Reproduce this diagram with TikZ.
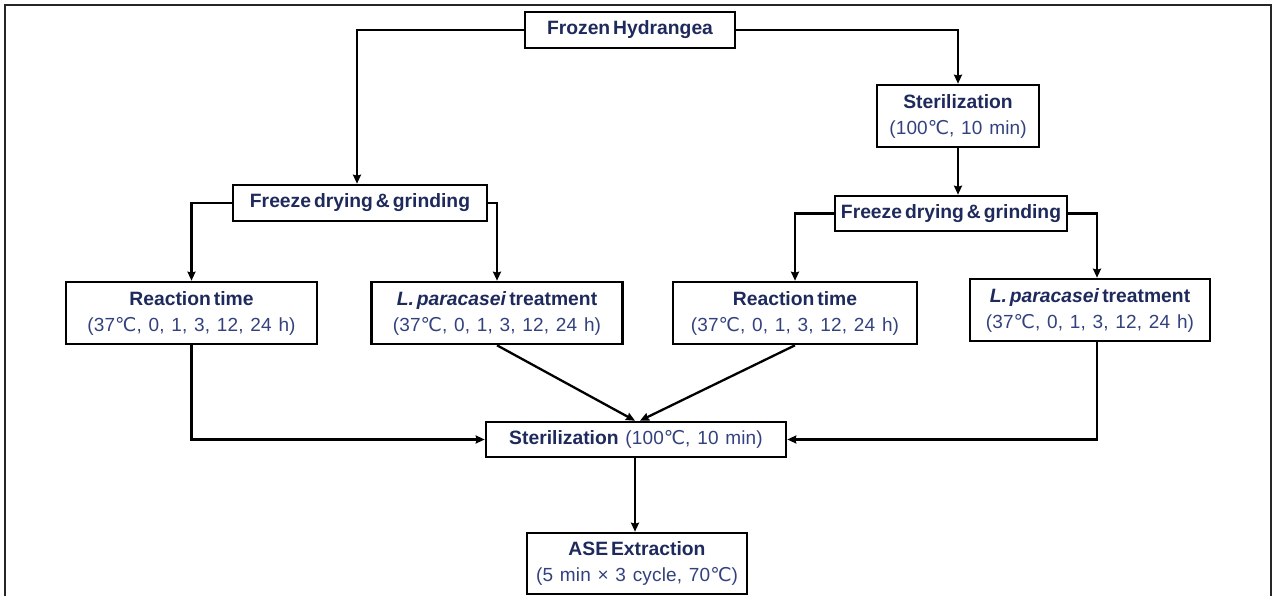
\documentclass[tikz,border=0pt]{standalone}
\usepackage{fontspec}
\setmainfont{Liberation Sans}
\newfontfamily\dv{DejaVu Sans}
\newfontfamily\ttlfont[WordSpace=0.55]{Liberation Sans}
\newfontfamily\parfont[LetterSpace=0.8, WordSpace=1.25]{Liberation Sans}
\usetikzlibrary{arrows.meta,calc}
\definecolor{titlecol}{HTML}{1F2A5C}
\definecolor{parcol}{HTML}{33427E}
\newcommand{\dC}{{\dv\addfontfeatures{LetterSpace=-4}℃}}
\newcommand{\ttl}[1]{{\ttlfont\fontsize{19.3}{22}\selectfont\color{titlecol}\bfseries #1}}
\tikzset{
  box/.style={draw=black, line width=2.6pt, fill=white, align=center, inner sep=2pt,
    font=\parfont\fontsize{19}{26}\selectfont, text=parcol},
  arr/.style={line width=2.3pt, -{Stealth[length=9pt,width=8pt,inset=1pt]}},
}
\begin{document}
\begin{tikzpicture}[x=1pt,y=-1pt]
\useasboundingbox (0,0) rectangle (1275,596);
\draw[line width=2pt, draw=black!85] (5,600) -- (5,5) -- (1271,5) -- (1271,600);

\node[box, minimum width=210pt, minimum height=36pt] (FH) at (630,30) {\ttl{Frozen Hydrangea}};
\node[box, minimum width=162pt, minimum height=62pt] (St1) at (958,116) {\ttl{Sterilization}\\(100\dC, 10 min)};
\node[box, minimum width=254pt, minimum height=36pt] (FD1) at (360,203) {\ttl{Freeze drying \& grinding}};
\node[box, minimum width=232pt, minimum height=35pt] (FD2) at (951,213.5) {\ttl{Freeze drying \& grinding}};
\node[box, minimum width=251pt, minimum height=62pt] (RT1) at (191.5,313) {\ttl{Reaction time}\\(37\dC, 0, 1, 3, 12, 24 h)};
\node[box, minimum width=251pt, minimum height=62pt] (LP1) at (497,313) {\ttl{\itshape L. paracasei\/\upshape{} treatment}\\(37\dC, 0, 1, 3, 12, 24 h)};
\node[box, minimum width=244pt, minimum height=62pt] (RT2) at (795,313) {\ttl{Reaction time}\\(37\dC, 0, 1, 3, 12, 24 h)};
\node[box, minimum width=240pt, minimum height=62pt] (LP2) at (1090,310) {\ttl{\itshape L. paracasei\/\upshape{} treatment}\\(37\dC, 0, 1, 3, 12, 24 h)};
\node[box, minimum width=300pt, minimum height=35pt] (ST2) at (636,439.5) {\ttl{Sterilization} (100\dC, 10 min)};
\node[box, minimum width=220pt, minimum height=61pt] (ASE) at (637,563.5) {\ttl{ASE Extraction}\\(5 min × 3 cycle, 70\dC)};

\coordinate (fdin) at (357,0);
\coordinate (lp2x) at (1097,0);
\coordinate (meetL) at (635,0);
\coordinate (meetR) at (640,0);

\draw[arr] (FH.west) -| (FD1.north -| fdin);
\draw[arr] (FH.east) -| (St1.north);
\draw[arr] (St1.south) -- (St1.south |- FD2.north);
\draw[arr] (FD1.west) -| (RT1.north);
\draw[arr] (FD1.east) -| (LP1.north);
\draw[arr] (FD2.west) -| (RT2.north);
\draw[arr] (FD2.east) -| (LP2.north -| lp2x);
\draw[arr] (RT1.south) |- (ST2.west);
\draw[arr] (LP1.south) -- (ST2.north -| meetL);
\draw[arr] (RT2.south) -- (ST2.north -| meetR);
\draw[arr] (LP2.south -| lp2x) |- (ST2.east);
\draw[arr] (ST2.south -| meetL) -- (ASE.north -| meetL);
\end{tikzpicture}
\end{document}
